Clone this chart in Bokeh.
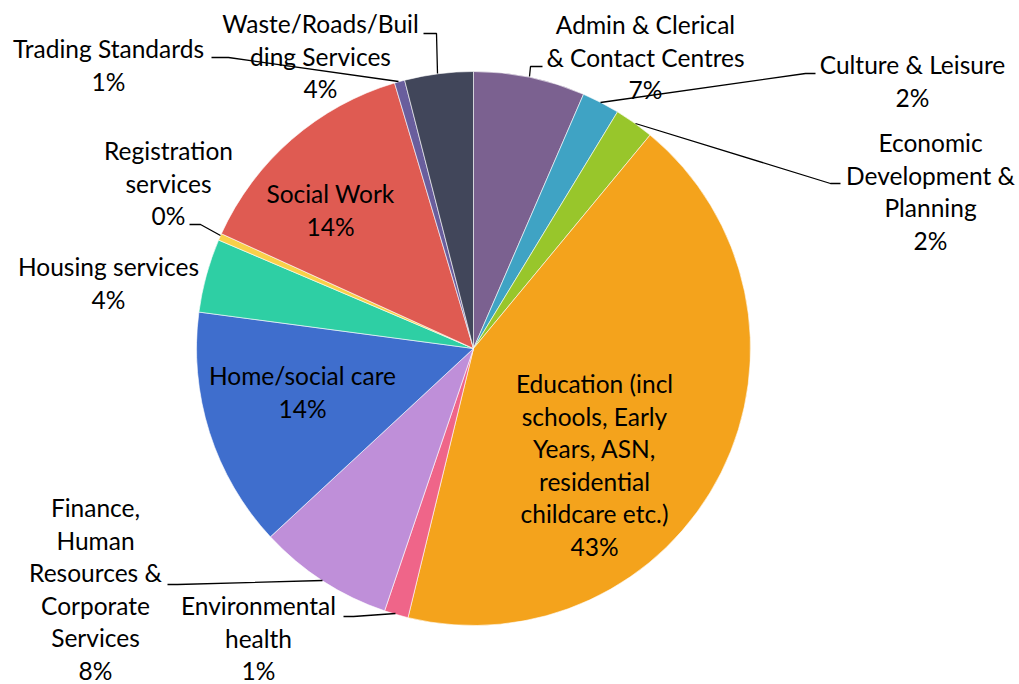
from math import pi, floor
from bokeh.plotting import figure
from bokeh.models import Range1d
from bokeh.core.properties import value
from bokeh.embed import file_html
from bokeh.resources import INLINE

# ---- data (clockwise from 12 o'clock) ----
categories = [
    "Admin & Clerical\n& Contact Centres",
    "Culture & Leisure",
    "Economic\nDevelopment &\nPlanning",
    "Education (incl\nschools, Early\nYears, ASN,\nresidential\nchildcare etc.)",
    "Environmental\nhealth",
    "Finance,\nHuman\nResources &\nCorporate\nServices",
    "Home/social care",
    "Housing services",
    "Registration\nservices",
    "Social Work",
    "Trading Standards",
    "Waste/Roads/Buil\nding Services",
]
shares = [6.5, 2.2, 2.3, 42.8, 1.4, 7.9, 14.0, 4.3, 0.4, 13.6, 0.6, 4.0]
colors = ["#7B6190", "#3FA3C4", "#98C62B", "#F4A31C", "#EF6589", "#BF8FD9",
          "#3F6ECD", "#2ECFA4", "#F9D049", "#DF5B52", "#695E9D", "#41465A"]

# ---- layout (pixel coordinates, y from top) ----
W, H = 1019, 684
CX, CY, R = 473, 348, 277
LINE = 32.6
label_pos = [(645, 24), (912, 64), (930, 142), (594, 383), (258, 605), (95, 507),
             (302, 375), (108, 266), (168, 150), (330, 193), (108, 48), (320, 23)]
leaders = {
    0: [(542, 66), (530, 66), (529, 76)],
    1: [(815, 73), (805, 73), (600, 102)],
    2: [(840, 183), (830, 183), (635, 123)],
    4: [(343, 616), (353, 616), (395, 613)],
    5: [(167, 584), (177, 584), (322, 580)],
    8: [(189, 224), (200, 224), (220, 235)],
    10: [(211, 57), (228, 57), (398, 81)],
    11: [(423, 33), (436, 33), (437, 73)],
}

def fy(y):
    return H - y

p = figure(width=W, height=H, x_range=Range1d(0, W), y_range=Range1d(0, H),
           output_backend="svg", toolbar_location=None, min_border=0,
           x_axis_type=None, y_axis_type=None)
p.grid.visible = False
p.outline_line_color = None
p.background_fill_color = "white"
p.border_fill_color = "white"

total = sum(shares)
starts, ends = [], []
cum = 0.0
for s in shares:
    starts.append(pi / 2 - 2 * pi * cum / total)
    cum += s
    ends.append(pi / 2 - 2 * pi * cum / total)

p.wedge(x=CX, y=fy(CY), radius=R, start_angle=starts, end_angle=ends,
        direction="clock", fill_color=colors, line_color="white", line_width=0.6)

# leader lines
xs, ys = [], []
for i, pts in leaders.items():
    xs.append([q[0] for q in pts])
    ys.append([fy(q[1]) for q in pts])
p.multi_line(xs=xs, ys=ys, line_color="black", line_width=1.3)

# labels
tx, ty, tt = [], [], []
for name, s, (lx, ly) in zip(categories, shares, label_pos):
    lines = name.split("\n") + [f"{int(floor(s + 0.5))}%"]
    for k, ln in enumerate(lines):
        tx.append(lx)
        ty.append(fy(ly + k * LINE))
        tt.append(ln)
p.text(x=tx, y=ty, text=tt, text_align="center", text_baseline="middle",
       text_font=value("Lato"), text_font_size="24.5px", text_color="black")

open("out.html", "w").write(file_html(p, INLINE))
